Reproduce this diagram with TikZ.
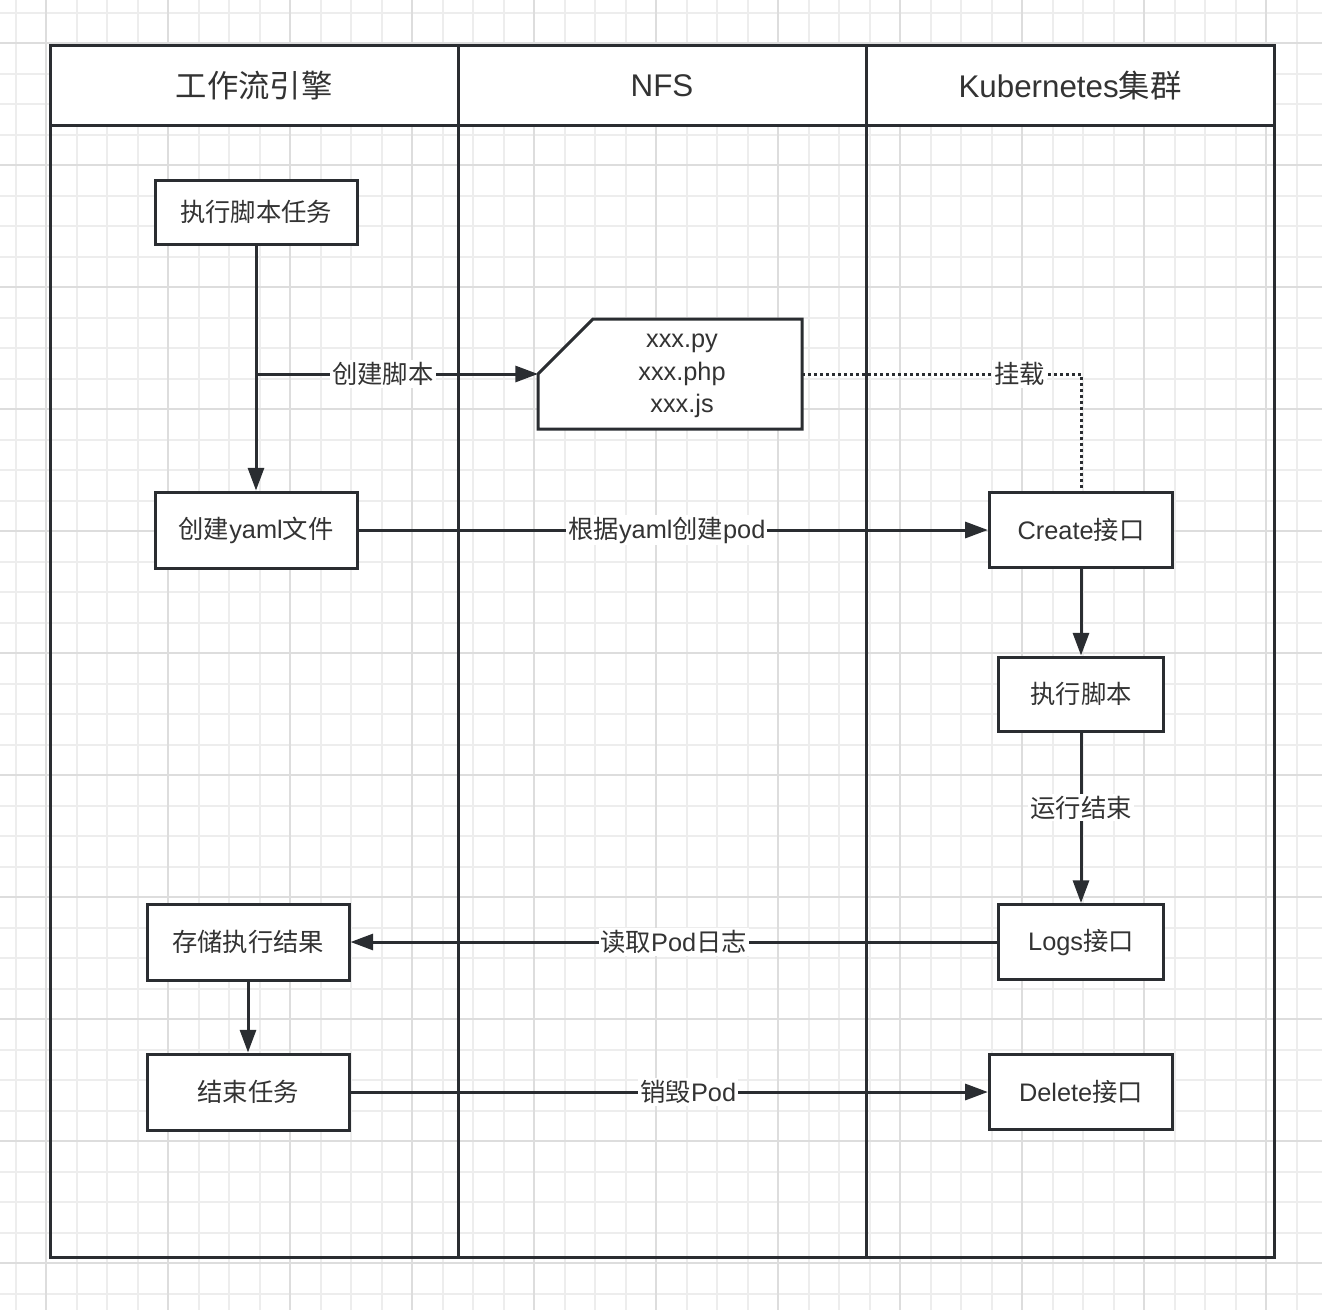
\documentclass[tikz,border=0pt]{standalone}
\usepackage{fontspec}
\setmainfont{Liberation Sans}
\newfontfamily\cjkfont{Noto Sans CJK SC}
\newcommand\zh[1]{{\cjkfont #1}}
\usetikzlibrary{arrows.meta}
\definecolor{inkline}{HTML}{2A2D31}
\definecolor{inktext}{HTML}{333333}
\definecolor{gridminor}{HTML}{EDEDED}
\definecolor{gridmajor}{HTML}{DDDDDD}

\begin{document}
\begin{tikzpicture}[x=0.75pt,y=-0.75pt,
  lanehead/.style={text=inktext, font=\fontsize{23.5}{28}\selectfont},
  box/.style={draw=inkline, fill=white, line width=2.25pt, inner sep=0pt, text=inktext, font=\fontsize{19}{23}\selectfont},
  wide/.style={box, minimum width=151.5pt, minimum height=57pt},
  api/.style={box, minimum width=137.5pt, minimum height=56.25pt},
  narrow/.style={box, minimum width=123.75pt, minimum height=55.5pt},
  flow/.style={draw=inkline, line width=2.25pt, -{Triangle[length=17pt,width=12pt]}},
  mount/.style={draw=inkline, line width=2.25pt, dash pattern=on 2.25pt off 2.25pt},
  lbl/.style={fill=white, inner sep=1.5pt, text=inktext, font=\fontsize{19}{23}\selectfont}]
\useasboundingbox (0,0) rectangle (1322,1310);
\clip (0,0) rectangle (1322,1310);
% grid
\foreach \i in {0,...,43} \draw[gridminor, line width=1.5pt] (15.5+30.5*\i,0) -- (15.5+30.5*\i,1310);
\foreach \i in {0,...,42} \draw[gridminor, line width=1.5pt] (0,12.5+30.5*\i) -- (1322,12.5+30.5*\i);
\foreach \i in {0,...,10} \draw[gridmajor, line width=1.5pt] (46+122*\i,0) -- (46+122*\i,1310);
\foreach \i in {0,...,10} \draw[gridmajor, line width=1.5pt] (0,43+122*\i) -- (1322,43+122*\i);
% pool and lanes
\fill[white] (50,45) rectangle (1274,125);
\draw[inkline, line width=2.25pt] (50,45) rectangle (1274,1257);
\draw[inkline, line width=2.25pt] (50,125) -- (1274,125);
\draw[inkline, line width=2.25pt] (458,45) -- (458,1257);
\draw[inkline, line width=2.25pt] (866,45) -- (866,1257);
\node[lanehead] (engine) at (254,86) {\zh{工作流引擎}};
\node[lanehead] (nfshead) at (662,86) {NFS};
\node[lanehead] (k8s) at (1070,86) {Kubernetes\zh{集群}};
% workflow engine
\node[wide, minimum height=48pt] (task) at (256,212) {\zh{执行脚本任务}};
\node[wide] (yaml) at (256,530) {\zh{创建}yaml\zh{文件}};
\node[wide] (store) at (248,942) {\zh{存储执行结果}};
\node[wide] (finish) at (248,1092) {\zh{结束任务}};
% nfs
\node[minimum width=198pt, minimum height=82.5pt, inner sep=0pt, outer sep=0pt] (nfs) at (670,374) {};
\filldraw[fill=white, draw=inkline, line width=2.25pt] (nfs.west) -- ([xshift=41.25pt]nfs.north west) -- (nfs.north east) -- (nfs.south east) -- (nfs.south west) -- cycle;
\node[text=inktext, align=center, font=\fontsize{19}{24.4}\selectfont] (files) at (682,376) {xxx.py\\xxx.php\\xxx.js};
% kubernetes
\node[api] (create) at (1081,530) {Create\zh{接口}};
\node[narrow] (run) at (1081,694) {\zh{执行脚本}};
\node[narrow, minimum height=56.25pt] (logs) at (1081,942) {Logs\zh{接口}};
\node[api] (delete) at (1081,1092) {Delete\zh{接口}};
% connectors
\coordinate (split) at (task.south |- nfs.west);
\draw[flow] (task.south) -- (yaml.north);
\draw[flow] (split) -- node[lbl, pos=0.45] {\zh{创建脚本}} (nfs.west);
\draw[mount] (nfs.east) -| node[lbl, pos=0.39] {\zh{挂载}} (create.north);
\draw[flow] (yaml.east) -- node[lbl, pos=0.49] {\zh{根据}yaml\zh{创建}pod} (create.west);
\draw[flow] (create.south) -- (run.north);
\draw[flow] (run.south) -- node[lbl, pos=0.44] {\zh{运行结束}} (logs.north);
\draw[flow] (logs.west) -- node[lbl, pos=0.5] {\zh{读取}Pod\zh{日志}} (store.east);
\draw[flow] (store.south) -- (finish.north);
\draw[flow] (finish.east) -- node[lbl, pos=0.53] {\zh{销毁}Pod} (delete.west);
\end{tikzpicture}
\end{document}
